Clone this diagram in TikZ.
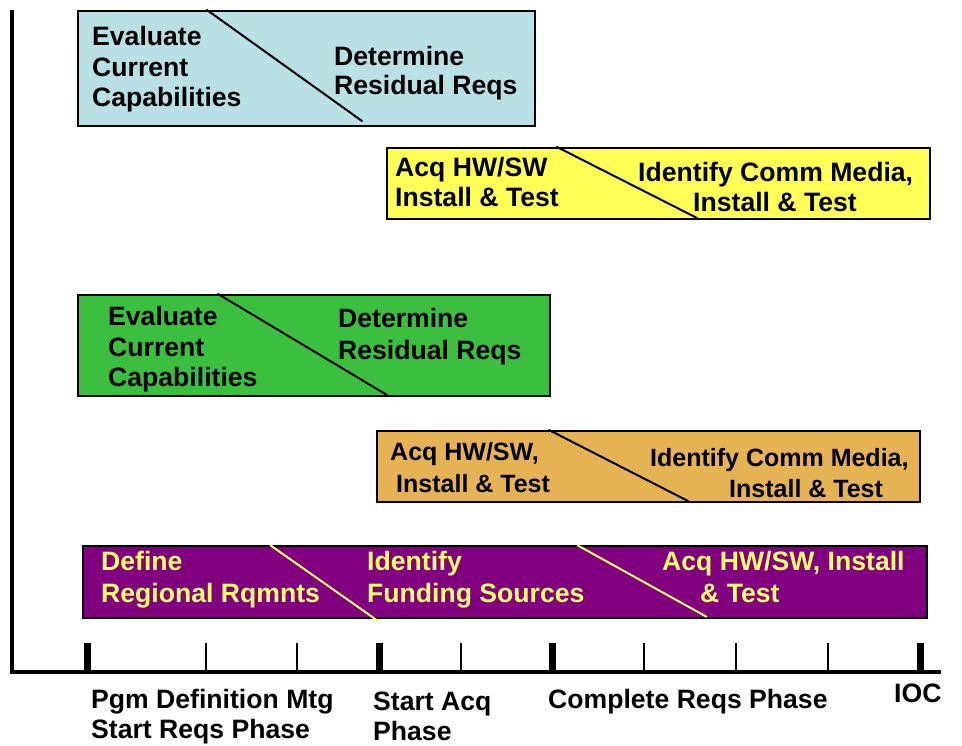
\documentclass[tikz,border=0pt]{standalone}
\usepackage{fontspec}
\setmainfont{Liberation Sans}
\definecolor{cBlue}{HTML}{B9E0E4}
\definecolor{cYellow}{HTML}{FFFF55}
\definecolor{cGreen}{HTML}{3AC03E}
\definecolor{cOrange}{HTML}{E6B354}
\definecolor{cPurple}{HTML}{800080}
\definecolor{cText}{HTML}{FFFF66}
\tikzset{
  lbl/.style={anchor=base west, inner sep=0pt, font=\bfseries\fontsize{26.6}{30}\selectfont},
  lblo/.style={anchor=base west, inner sep=0pt, font=\bfseries\fontsize{25}{30}\selectfont},
  ylbl/.style={lbl, text=cText},
  bar/.style={draw=black, line width=2.2pt, anchor=north west, inner sep=0pt},
  diag/.style={line width=2pt, line cap=round},
  ydiag/.style={line width=2pt, draw=cText},
  axisline/.style={line width=4.5pt, line join=miter},
  bigtick/.style={line width=7pt},
  smalltick/.style={line width=1.5pt},
}
\begin{document}
\begin{tikzpicture}[x=1pt,y=-1pt]
\useasboundingbox (0,0) rectangle (962,745);

% axes
\coordinate (ytop) at (12,10);
\coordinate (orig) at (12,672);
\coordinate (xend) at (941,672);
\draw[axisline] (ytop) -- (orig) -- (xend);
\foreach \x in {87,379,552,920} {\draw[bigtick] (\x,643) -- (\x,672);}
\foreach \x in {206,297,461,644,736,828} {\draw[smalltick] (\x,643) -- (\x,672);}

% box 1 (blue)
\node[bar, fill=cBlue, minimum width=457pt, minimum height=115pt] (b1) at (77,10) {};
\coordinate (d1a) at (207,10); \coordinate (d1b) at (362,121);
\draw[diag] (d1a) -- (d1b);
\node[lbl] (b1t1) at (92,45) {Evaluate};
\node[lbl] (b1t2) at (92,76) {Current};
\node[lbl] (b1t3) at (92,106) {Capabilities};
\node[lbl] (b1t4) at (334,65) {Determine};
\node[lbl] (b1t5) at (334,94.5) {Residual Reqs};

% box 2 (yellow)
\node[bar, fill=cYellow, minimum width=543pt, minimum height=71pt] (b2) at (386,147) {};
\coordinate (d2a) at (557,147); \coordinate (d2b) at (697,218);
\draw[diag] (d2a) -- (d2b);
\node[lbl] (b2t1) at (395,176) {Acq HW/SW};
\node[lbl] (b2t2) at (395,206) {Install \& Test};
\node[lbl] (b2t3) at (638,181) {Identify Comm Media,};
\node[lbl] (b2t4) at (693,211) {Install \& Test};

% box 3 (green)
\node[bar, fill=cGreen, minimum width=472pt, minimum height=101pt] (b3) at (77,294) {};
\coordinate (d3a) at (218,294); \coordinate (d3b) at (387,395);
\draw[diag] (d3a) -- (d3b);
\node[lbl] (b3t1) at (108,325) {Evaluate};
\node[lbl] (b3t2) at (108,356) {Current};
\node[lbl] (b3t3) at (108,386) {Capabilities};
\node[lbl] (b3t4) at (338,327) {Determine};
\node[lbl] (b3t5) at (338,359) {Residual Reqs};

% box 4 (orange)
\node[bar, fill=cOrange, minimum width=543pt, minimum height=71pt] (b4) at (376,430) {};
\coordinate (d4a) at (549,430); \coordinate (d4b) at (688,501);
\draw[diag] (d4a) -- (d4b);
\node[lblo] (b4t1) at (390,460) {Acq HW/SW,};
\node[lblo] (b4t2) at (396,492) {Install \& Test};
\node[lblo] (b4t3) at (650,466) {Identify Comm Media,};
\node[lblo] (b4t4) at (729,497) {Install \& Test};

% box 5 (purple)
\node[bar, fill=cPurple, minimum width=844pt, minimum height=72pt] (b5) at (82,545) {};
\coordinate (d5a) at (270,545); \coordinate (d5b) at (378,621);
\coordinate (d6a) at (577,545); \coordinate (d6b) at (707,617);
\draw[ydiag] (d5a) -- (d5b);
\draw[ydiag] (d6a) -- (d6b);
\node[ylbl] (b5t1) at (101,570) {Define};
\node[ylbl] (b5t2) at (101,602) {Regional Rqmnts};
\node[ylbl] (b5t3) at (367,570) {Identify};
\node[ylbl] (b5t4) at (367,602) {Funding Sources};
\node[ylbl] (b5t5) at (662,570) {Acq HW/SW, Install};
\node[ylbl] (b5t6) at (700,602) {\& Test};

% axis labels
\node[lbl] (m1a) at (91,708) {Pgm Definition Mtg};
\node[lbl] (m1b) at (91,738) {Start Reqs Phase};
\node[lbl] (m2a) at (373,710.5) {Start Acq};
\node[lbl] (m2b) at (373,740) {Phase};
\node[lbl] (m3) at (548,708) {Complete Reqs Phase};
\node[lbl] (m4) at (894,702) {IOC};
\end{tikzpicture}
\end{document}
